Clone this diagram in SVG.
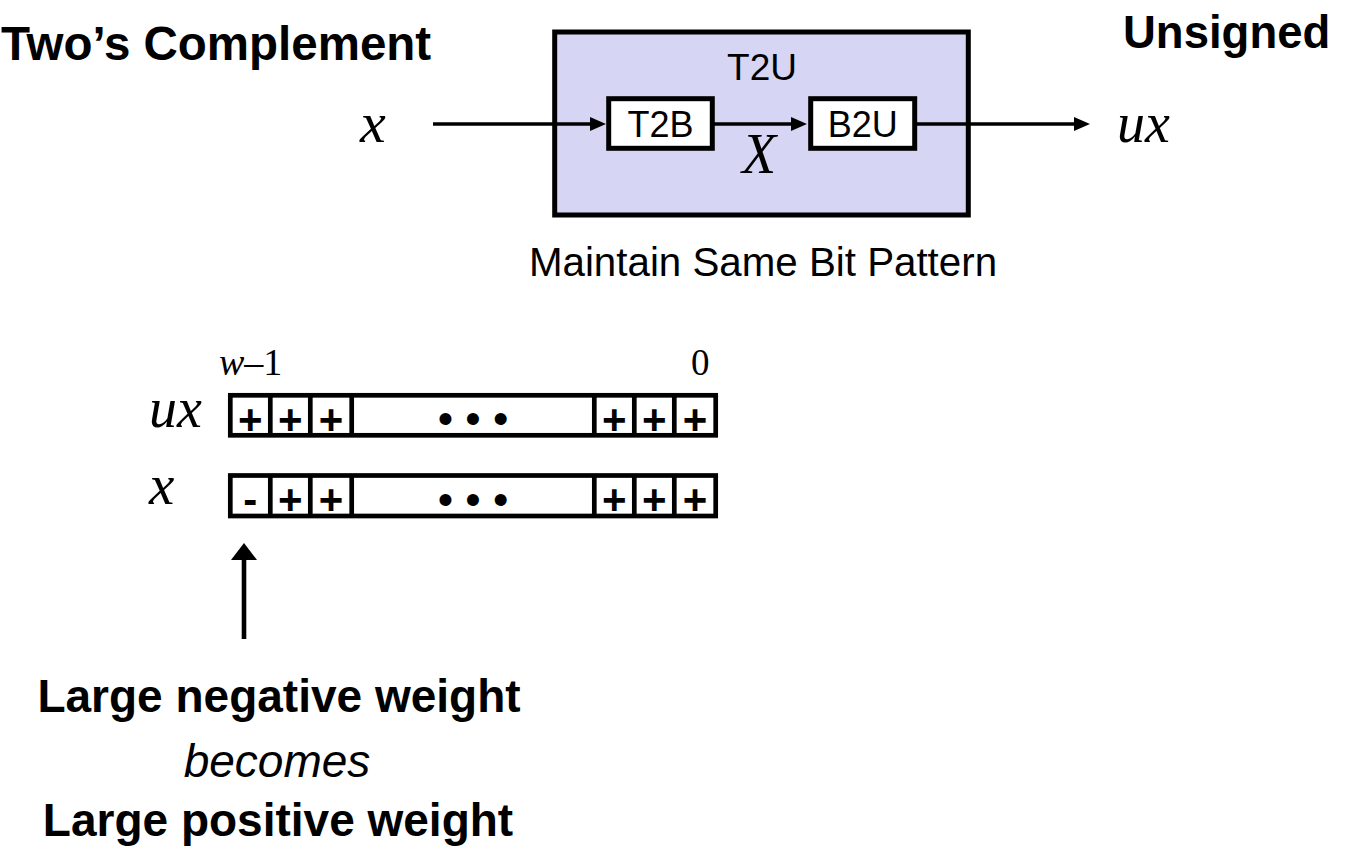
<svg xmlns="http://www.w3.org/2000/svg" width="1352" height="855" viewBox="0 0 1352 855">
<style>
.bold{font-family:"Liberation Sans",Arial,sans-serif;font-weight:bold;fill:#000}
.sans{font-family:"Liberation Sans",Arial,sans-serif;fill:#000}
.math{font-family:"Liberation Serif","Times New Roman",serif;font-style:italic;fill:#000}
.serif{font-family:"Liberation Serif","Times New Roman",serif;fill:#000}
.box{fill:#fff;stroke:#000;stroke-width:5}
.cell{fill:#fff;stroke:#000;stroke-width:4.7}
.div{stroke:#000;stroke-width:4.7}
.conn{stroke:#000;stroke-width:3.6;fill:none}
.sign{font-family:"Liberation Sans",Arial,sans-serif;font-weight:bold;font-size:42px;text-anchor:middle;fill:#000}
.dots{font-family:"Liberation Sans",Arial,sans-serif;font-size:44px;text-anchor:middle;fill:#000}
</style>
<defs>
<marker id="ah" markerUnits="userSpaceOnUse" markerWidth="16" markerHeight="14" refX="8" refY="7" orient="auto">
<path d="M0,0 L16,7 L0,14 z" fill="#000"/>
</marker>
<marker id="ahBig" markerUnits="userSpaceOnUse" markerWidth="17" markerHeight="26" refX="8" refY="13" orient="auto">
<path d="M0,0 L17,13 L0,26 z" fill="#000"/>
</marker>
</defs>

<g id="title-tc">
<text class="bold" x="1" y="60" font-size="47.5">Two’s Complement</text>
</g>
<g id="title-unsigned">
<text class="bold" x="1123" y="48" font-size="45.5">Unsigned</text>
</g>

<g id="T2U">
<rect x="554.7" y="32" width="413.6" height="183" fill="#D6D6F4" stroke="#000" stroke-width="5"/>
<text class="sans" x="762" y="80" font-size="37" text-anchor="middle">T2U</text>
</g>
<g id="T2B">
<rect class="box" x="608.7" y="98.7" width="103.6" height="49.6"/>
<text class="sans" x="660.5" y="137" font-size="36" text-anchor="middle">T2B</text>
</g>
<g id="B2U">
<rect class="box" x="810.7" y="98.7" width="104" height="49.6"/>
<text class="sans" x="862.7" y="137" font-size="36" text-anchor="middle">B2U</text>
</g>
<g id="label-X">
<text class="serif" x="759" y="172.5" font-size="56" font-style="italic" text-anchor="middle">X</text>
</g>
<g id="input-x">
<text class="math" x="360" y="141.7" font-size="58">x</text>
</g>
<g id="output-ux">
<text class="math" x="1117" y="141.7" font-size="56">ux</text>
</g>
<g id="caption">
<text class="sans" x="763" y="276" font-size="40.3" text-anchor="middle">Maintain Same Bit Pattern</text>
</g>

<g id="connectors">
<line class="conn" x1="433" y1="124" x2="598" y2="124" marker-end="url(#ah)"/>
<line class="conn" x1="714" y1="124" x2="799" y2="124" marker-end="url(#ah)"/>
<line class="conn" x1="917" y1="124" x2="1082" y2="124" marker-end="url(#ah)"/>
<line stroke="#000" stroke-width="4.6" x1="244" y1="639" x2="244" y2="552" marker-end="url(#ahBig)"/>
</g>

<g id="bit-labels">
<text class="serif" x="219" y="375" font-size="38"><tspan font-style="italic">w</tspan>–1</text>
<text class="serif" x="691" y="375" font-size="37">0</text>
</g>

<g id="row-ux">
<text class="math" x="149" y="427" font-size="56">ux</text>
<rect class="cell" x="230.3" y="395.3" width="485.4" height="40"/>
<line class="div" x1="270.3" y1="395.3" x2="270.3" y2="435.3"/>
<line class="div" x1="310.3" y1="395.3" x2="310.3" y2="435.3"/>
<line class="div" x1="351.7" y1="395.3" x2="351.7" y2="435.3"/>
<line class="div" x1="594.3" y1="395.3" x2="594.3" y2="435.3"/>
<line class="div" x1="634.3" y1="395.3" x2="634.3" y2="435.3"/>
<line class="div" x1="674.3" y1="395.3" x2="674.3" y2="435.3"/>
<text class="sign" x="250.3" y="433.5">+</text>
<text class="sign" x="290.3" y="433.5">+</text>
<text class="sign" x="331" y="433.5">+</text>
<text class="dots" x="473" y="434">• • •</text>
<text class="sign" x="614.3" y="433.5">+</text>
<text class="sign" x="654.3" y="433.5">+</text>
<text class="sign" x="695" y="433.5">+</text>
</g>

<g id="row-x">
<text class="math" x="149" y="504" font-size="57">x</text>
<rect class="cell" x="230.3" y="475.5" width="485.4" height="40.5"/>
<line class="div" x1="270.3" y1="475.5" x2="270.3" y2="516"/>
<line class="div" x1="310.3" y1="475.5" x2="310.3" y2="516"/>
<line class="div" x1="351.7" y1="475.5" x2="351.7" y2="516"/>
<line class="div" x1="594.3" y1="475.5" x2="594.3" y2="516"/>
<line class="div" x1="634.3" y1="475.5" x2="634.3" y2="516"/>
<line class="div" x1="674.3" y1="475.5" x2="674.3" y2="516"/>
<text class="sign" x="250.3" y="513.5">-</text>
<text class="sign" x="290.3" y="514">+</text>
<text class="sign" x="331" y="514">+</text>
<text class="dots" x="473" y="515">• • •</text>
<text class="sign" x="614.3" y="514">+</text>
<text class="sign" x="654.3" y="514">+</text>
<text class="sign" x="695" y="514">+</text>
</g>

<g id="note">
<text class="bold" x="279" y="712" font-size="46" text-anchor="middle">Large negative weight</text>
<text class="sans" x="277" y="777" font-size="46" font-style="italic" text-anchor="middle">becomes</text>
<text class="bold" x="278" y="836" font-size="46" text-anchor="middle">Large positive weight</text>
</g>
</svg>
